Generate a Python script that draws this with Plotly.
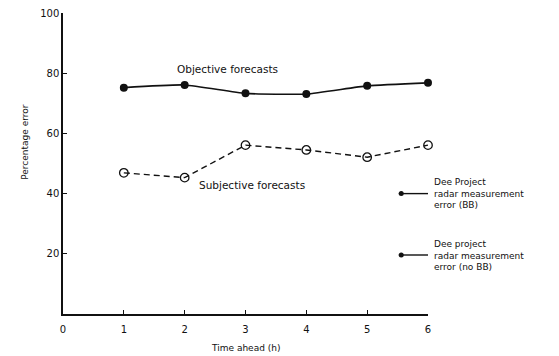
import plotly.graph_objects as go

hours = [1, 2, 3, 4, 5, 6]
objective = [75.2, 76.1, 73.3, 73.1, 75.8, 76.8]
subjective = [46.9, 45.3, 56.1, 54.5, 52.1, 56.1]
radar_bb = [40.0, 40.0]
radar_nobb = [19.6, 19.6]
radar_x = [5.52, 6.02]
x_ticks = [0, 1, 2, 3, 4, 5, 6]
y_ticks = [20, 40, 60, 80, 100]

ink = "#111111"
font_family = "DejaVu Sans, Liberation Sans, sans-serif"

fig = go.Figure()
fig.add_trace(go.Scatter(
    x=hours, y=objective, mode="lines+markers",
    line=dict(color=ink, width=1.6, shape="spline", smoothing=0.5),
    marker=dict(symbol="circle", size=8, color=ink),
    showlegend=False, cliponaxis=False))
fig.add_trace(go.Scatter(
    x=hours, y=subjective, mode="lines+markers",
    line=dict(color=ink, width=1.4, dash="6px,4px"),
    marker=dict(symbol="circle-open", size=8.5, color=ink, line=dict(width=1.3)),
    showlegend=False, cliponaxis=False))
for ys in (radar_bb, radar_nobb):
    fig.add_trace(go.Scatter(
        x=radar_x, y=ys, mode="lines",
        line=dict(color=ink, width=1.4),
        showlegend=False, cliponaxis=False))
    fig.add_trace(go.Scatter(
        x=[radar_x[0] + 0.04], y=[ys[0]], mode="markers",
        marker=dict(symbol="circle", size=5, color=ink),
        showlegend=False, cliponaxis=False))

fig.add_annotation(x=1.84, y=81.4, text="Objective forecasts", showarrow=False,
                   xanchor="left", yanchor="middle", font=dict(size=10.5, color=ink, family=font_family))
fig.add_annotation(x=2.2, y=42.9, text="Subjective forecasts", showarrow=False,
                   xanchor="left", yanchor="middle", font=dict(size=10.5, color=ink, family=font_family))
fig.add_annotation(xref="paper", yref="y", x=1.012, y=radar_bb[0],
                   text="Dee Project<br>radar measurement<br>error (BB)",
                   showarrow=False, xanchor="left", yanchor="middle", align="left",
                   font=dict(size=9, color=ink, family=font_family))
fig.add_annotation(xref="paper", yref="y", x=1.012, y=radar_nobb[0],
                   text="Dee project<br>radar measurement<br>error (no BB)",
                   showarrow=False, xanchor="left", yanchor="middle", align="left",
                   font=dict(size=9, color=ink, family=font_family))
fig.add_annotation(xref="paper", yref="paper", x=-0.105, y=0.571, text="Percentage error",
                   textangle=-90, showarrow=False, xanchor="center", yanchor="middle",
                   font=dict(size=9, color=ink, family=font_family))
fig.add_annotation(xref="paper", yref="paper", x=0.5, y=-0.137, text="Time ahead (h)",
                   showarrow=False, xanchor="center", yanchor="bottom",
                   font=dict(size=9, color=ink, family=font_family))

# The page body carries an 8px default margin; size the figure so the plot
# lands at the reference's pixel positions inside the 559x356 window.
fig.update_layout(
    width=551, height=348,
    margin=dict(l=55, r=131, t=5, b=42, autoexpand=False),
    paper_bgcolor="white", plot_bgcolor="white",
    font=dict(family=font_family, color=ink, size=10),
    xaxis=dict(range=[0, 6], tickvals=x_ticks, ticktext=[str(v) for v in x_ticks],
               showgrid=False, zeroline=False, showline=True, linecolor=ink, linewidth=1.5,
               ticks="inside", ticklen=4, tickcolor=ink, tickwidth=1, automargin=False,
               ticklabelstandoff=5,
               tickfont=dict(size=10, color=ink)),
    yaxis=dict(range=[0, 100], tickvals=y_ticks, ticktext=[str(v) for v in y_ticks],
               showgrid=False, zeroline=False, showline=True, linecolor=ink, linewidth=1.5,
               ticks="inside", ticklen=4, tickcolor=ink, tickwidth=1, automargin=False,
               ticklabeloverflow="allow",
               tickfont=dict(size=10, color=ink)),
)

fig.write_html("out.html")
